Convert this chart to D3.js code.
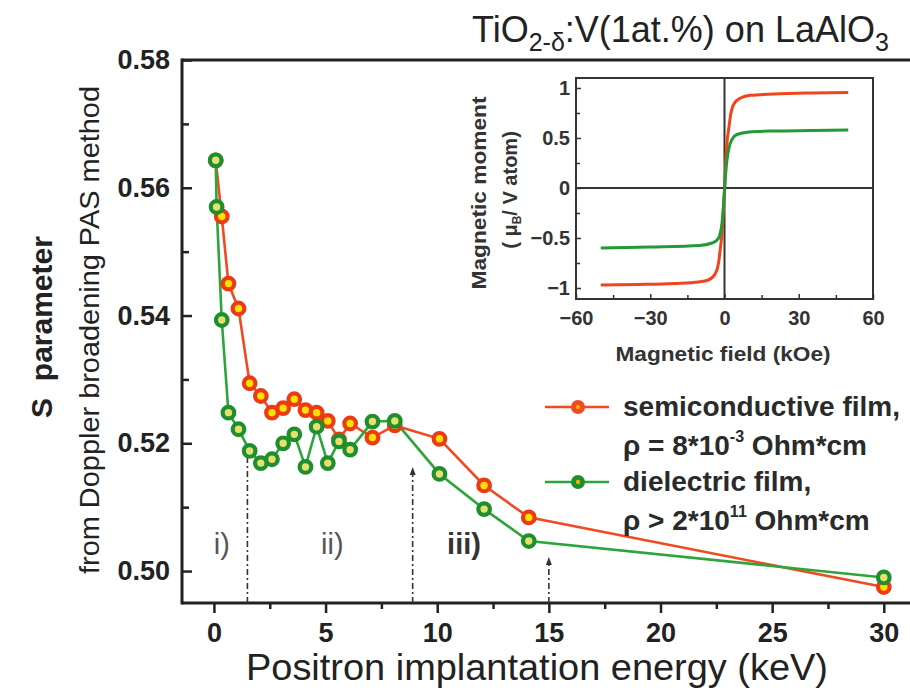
<!DOCTYPE html>
<html><head><meta charset="utf-8">
<script src="https://cdn.jsdelivr.net/npm/d3@7"></script>
<style>body{margin:0;background:#fff;overflow:hidden;} text{font-family:"Liberation Sans",Arial,sans-serif;}</style>
</head><body><svg id="c" width="910" height="699"></svg>
<script>
// ---------- main chart data ----------
const energyRed = [0.08, 0.35, 0.65, 1.1, 1.6, 2.1, 2.6, 3.1, 3.6, 4.1, 4.6, 5.1, 5.6, 6.1, 7.1, 8.1, 10.1, 12.1, 14.1, 30];
const sRed = [0.5643, 0.5555, 0.5450, 0.5411, 0.5294, 0.5274, 0.5248, 0.5255, 0.5269, 0.5252, 0.5248, 0.5235, 0.5206, 0.5231, 0.5209, 0.5228, 0.5207, 0.5134, 0.5084, 0.4975];
const energyGreen = [0.08, 0.12, 0.35, 0.65, 1.1, 1.6, 2.1, 2.6, 3.1, 3.6, 4.1, 4.6, 5.1, 5.6, 6.1, 7.1, 8.1, 10.1, 12.1, 14.1, 30];
const sGreen = [0.5643, 0.5570, 0.5393, 0.5248, 0.5222, 0.5188, 0.5169, 0.5175, 0.5200, 0.5214, 0.5163, 0.5226, 0.5169, 0.5203, 0.5190, 0.5234, 0.5235, 0.5152, 0.5097, 0.5047, 0.4990];
const xTicks = [0, 5, 10, 15, 20, 25, 30];
const xMinorTicks = [2.5, 7.5, 12.5, 17.5, 22.5, 27.5];
const yTicks = [0.50, 0.52, 0.54, 0.56, 0.58];
const yMinorTicks = [0.51, 0.53, 0.55, 0.57];
const arrowEnergy = [1.5, 8.9, 15];
const arrowTopS = [0.5193, 0.5163, 0.5022];
const regionLabels = ["i)", "ii)", "iii)"];
const regionEnergy = [0.35, 5.3, 11.2];
const regionS = [0.5026, 0.5026, 0.5026];

// ---------- inset data (magnetization) ----------
const fieldRed = [-50, -35, -20, -10.5, -6.5, -3.8, -2.4, -1.75, -1, -0.5, 0, 0.5, 1, 1.75, 2.4, 3.8, 6.5, 10.5, 20, 35, 50];
const momentRed = [-0.97, -0.965, -0.955, -0.94, -0.92, -0.86, -0.75, -0.62, -0.45, -0.25, 0, 0.25, 0.45, 0.6, 0.72, 0.84, 0.9, 0.927, 0.94, 0.95, 0.955];
const fieldGreen = [-50, -30, -10, -5, -3, -2, -1, -0.5, 0, 0.5, 1, 2, 3, 5, 10, 20, 35, 50];
const momentGreen = [-0.6, -0.59, -0.575, -0.55, -0.52, -0.48, -0.35, -0.2, -0.03, 0.15, 0.28, 0.42, 0.485, 0.535, 0.56, 0.57, 0.575, 0.58];
const insetXTicks = [-60, -30, 0, 30, 60];
const insetXMinor = [-45, -15, 15, 45];
const insetYTicks = [-1, -0.5, 0, 0.5, 1];
const insetYMinor = [-0.75, -0.25, 0.25, 0.75];

const RED = "#ef4a22", RED_RING = "#ee3a12", YEL = "#ffe200";
const GRN = "#2da53a", GRN_RING = "#1d8f2e", GYEL = "#e6e070";
const INK = "#222";

const svg = d3.select("#c");
const x = d3.scaleLinear().domain([-1.43, 31.2]).range([182, 910.6]);
const y = d3.scaleLinear().domain([0.495, 0.58]).range([603, 60]);

// frame
svg.append("line").attr("x1", 182).attr("x2", 910).attr("y1", 60).attr("y2", 60).attr("stroke", INK).attr("stroke-width", 3);
svg.append("line").attr("x1", 182).attr("x2", 910).attr("y1", 603).attr("y2", 603).attr("stroke", INK).attr("stroke-width", 3);
svg.append("line").attr("x1", 182).attr("x2", 182).attr("y1", 58.5).attr("y2", 604.5).attr("stroke", INK).attr("stroke-width", 3);

function styleAxis(g, fs, fw) {
  g.select(".domain").remove();
  g.selectAll("line").attr("stroke", INK).attr("stroke-width", 2.5);
  g.selectAll("text").attr("font-size", fs).attr("font-weight", fw).attr("fill", INK)
    .attr("font-family", '"Liberation Sans",Arial,sans-serif');
}
// x axis
const gx = svg.append("g").attr("transform", "translate(0,603)")
  .call(d3.axisBottom(x).tickValues(xTicks).tickSize(10).tickPadding(10).tickFormat(d3.format("d")));
styleAxis(gx, 27, "bold");
const gxm = svg.append("g").attr("transform", "translate(0,603)")
  .call(d3.axisBottom(x).tickValues(xMinorTicks).tickSize(6).tickFormat(""));
styleAxis(gxm, 10, "normal");
// y axis
const gy = svg.append("g").attr("transform", "translate(182,0)")
  .call(d3.axisLeft(y).tickValues(yTicks).tickSize(-10).tickPadding(12).tickFormat(d3.format(".2f")));
styleAxis(gy, 27, "bold");
const gym = svg.append("g").attr("transform", "translate(182,0)")
  .call(d3.axisLeft(y).tickValues(yMinorTicks).tickSize(-7).tickFormat(""));
styleAxis(gym, 10, "normal");

// dash-dot arrows
arrowEnergy.forEach((e, i) => {
  const xx = x(e);
  svg.append("line").attr("x1", xx).attr("x2", xx).attr("y1", 603).attr("y2", y(arrowTopS[i]) + 6)
    .attr("stroke", "#333").attr("stroke-width", 1.6).attr("stroke-dasharray", "6,3,2,3");
  svg.append("path").attr("d", `M${xx},${y(arrowTopS[i])} l-3,8 l6,0 z`).attr("fill", "#333");
});
// region labels
regionLabels.forEach((t, i) => {
  const last = i === regionLabels.length - 1;
  svg.append("text").attr("x", x(regionEnergy[i])).attr("y", y(regionS[i])).attr("text-anchor", "middle")
    .attr("font-size", 29).attr("font-weight", last ? "bold" : "normal").attr("fill", last ? "#333" : "#555").text(t);
});

// series
const red = energyRed.map((e, i) => [e, sRed[i]]);
const green = energyGreen.map((e, i) => [e, sGreen[i]]);
const line = d3.line().x(d => x(d[0])).y(d => y(d[1]));
svg.append("path").datum(red).attr("d", line).attr("fill", "none").attr("stroke", RED).attr("stroke-width", 2.6);
svg.append("path").datum(green).attr("d", line).attr("fill", "none").attr("stroke", GRN).attr("stroke-width", 2.6);
svg.append("g").selectAll("circle").data(red).join("circle")
  .attr("cx", d => x(d[0])).attr("cy", d => y(d[1])).attr("r", 5.8)
  .attr("fill", YEL).attr("stroke", RED_RING).attr("stroke-width", 4.2);
svg.append("g").selectAll("circle").data(green).join("circle")
  .attr("cx", d => x(d[0])).attr("cy", d => y(d[1])).attr("r", 5.8)
  .attr("fill", GYEL).attr("stroke", GRN_RING).attr("stroke-width", 4.2);

// axis titles
svg.append("text").attr("x", 537).attr("y", 680).attr("text-anchor", "middle").attr("font-size", 36)
  .attr("fill", INK).attr("textLength", 582).attr("lengthAdjust", "spacingAndGlyphs")
  .text("Positron implantation energy (keV)");
svg.append("text").attr("transform", "translate(52,327) rotate(-90)").attr("text-anchor", "middle")
  .attr("font-size", 30).attr("font-weight", "bold").attr("fill", INK).attr("xml:space", "preserve")
  .text("S  parameter");
svg.append("text").attr("transform", "translate(99,330) rotate(-90)").attr("text-anchor", "middle")
  .attr("font-size", 28).attr("fill", INK).attr("textLength", 488).attr("lengthAdjust", "spacingAndGlyphs")
  .text("from Doppler broadening PAS method");

// title
const title = svg.append("text").attr("x", 472).attr("y", 42).attr("font-size", 36).attr("fill", INK);
title.append("tspan").text("TiO");
title.append("tspan").attr("font-size", 25).attr("dy", 9).text("2-δ");
title.append("tspan").attr("dy", -9).text(":V(1at.%) on LaAlO");
title.append("tspan").attr("font-size", 25).attr("dy", 9).text("3");

// legend
const legend = [
  {c: RED, ring: RED, y: 407, l1: ["semiconductive film,"], l2: ["ρ = 8*10", "-3", " Ohm*cm"]},
  {c: GRN, ring: GRN_RING, y: 482, l1: ["dielectric film,"], l2: ["ρ > 2*10", "11", " Ohm*cm"]}
];
legend.forEach(L => {
  svg.append("line").attr("x1", 545).attr("x2", 609).attr("y1", L.y).attr("y2", L.y).attr("stroke", L.c).attr("stroke-width", 2.6);
  svg.append("circle").attr("cx", 578).attr("cy", L.y).attr("r", 7).attr("fill", L.ring);
  svg.append("circle").attr("cx", 578).attr("cy", L.y).attr("r", 2.2).attr("fill", "#f0b000");
  svg.append("text").attr("x", 623).attr("y", L.y + 9).attr("font-size", 28).attr("font-weight", "bold").attr("fill", "#2a2a2a").text(L.l1[0]);
  const t = svg.append("text").attr("x", 623).attr("y", L.y + 48).attr("font-size", 28).attr("font-weight", "bold").attr("fill", "#2a2a2a");
  t.append("tspan").text(L.l2[0]);
  t.append("tspan").attr("font-size", 16).attr("dy", -13).text(L.l2[1]);
  t.append("tspan").attr("dy", 13).text(L.l2[2]);
});

// ---------- inset ----------
const ix = d3.scaleLinear().domain([-60, 60]).range([576, 873]);
const iy = d3.scaleLinear().domain([-1.11, 1.1]).range([299, 78]);
const ins = svg.append("g");
ins.append("rect").attr("x", 576).attr("y", 78).attr("width", 297).attr("height", 221).attr("fill", "#fff")
  .attr("stroke", "#333").attr("stroke-width", 2);
ins.append("line").attr("x1", ix(0)).attr("x2", ix(0)).attr("y1", 78).attr("y2", 299).attr("stroke", "#333").attr("stroke-width", 2);
ins.append("line").attr("x1", 576).attr("x2", 873).attr("y1", iy(0)).attr("y2", iy(0)).attr("stroke", "#333").attr("stroke-width", 2);
const gix = ins.append("g").attr("transform", "translate(0,299)")
  .call(d3.axisBottom(ix).tickValues(insetXTicks).tickSize(-5).tickPadding(12).tickFormat(d3.format("d")));
styleAxis(gix, 20, "bold");
const gixm = ins.append("g").attr("transform", "translate(0,299)")
  .call(d3.axisBottom(ix).tickValues(insetXMinor).tickSize(-4).tickFormat(""));
styleAxis(gixm, 10, "normal");
const giy = ins.append("g").attr("transform", "translate(576,0)")
  .call(d3.axisLeft(iy).tickValues(insetYTicks).tickSize(-5).tickPadding(6).tickFormat(d => d3.format("")(d)));
styleAxis(giy, 20, "bold");
const giym = ins.append("g").attr("transform", "translate(576,0)")
  .call(d3.axisLeft(iy).tickValues(insetYMinor).tickSize(-4).tickFormat(""));
styleAxis(giym, 10, "normal");
[gix, gixm, giy, giym].forEach(g => g.selectAll("line").attr("stroke-width", 1.5).attr("stroke", "#333"));
[gix, giy].forEach(g => g.selectAll("text").attr("fill", "#333"));

const iline = d3.line().x(d => ix(d[0])).y(d => iy(d[1])).curve(d3.curveMonotoneX);
ins.append("path").datum(fieldRed.map((f, i) => [f, momentRed[i]])).attr("d", iline)
  .attr("fill", "none").attr("stroke", "#f0441c").attr("stroke-width", 3);
ins.append("path").datum(fieldGreen.map((f, i) => [f, momentGreen[i]])).attr("d", iline)
  .attr("fill", "none").attr("stroke", "#229a36").attr("stroke-width", 3);

ins.append("text").attr("x", 723).attr("y", 361).attr("text-anchor", "middle").attr("font-size", 20)
  .attr("font-weight", "bold").attr("fill", "#333").attr("textLength", 215).attr("lengthAdjust", "spacingAndGlyphs")
  .text("Magnetic field (kOe)");
ins.append("text").attr("transform", "translate(486,193) rotate(-90)").attr("text-anchor", "middle")
  .attr("font-size", 20).attr("font-weight", "bold").attr("fill", "#333").attr("textLength", 193).attr("lengthAdjust", "spacingAndGlyphs")
  .text("Magnetic moment");
const yl2 = ins.append("text").attr("transform", "translate(517,190) rotate(-90)").attr("text-anchor", "middle")
  .attr("font-size", 20).attr("font-weight", "bold").attr("fill", "#333");
yl2.append("tspan").text("( μ");
yl2.append("tspan").attr("font-size", 12).attr("dy", 4).text("B");
yl2.append("tspan").attr("dy", -4).text("/ V atom)");
</script></body></html>
